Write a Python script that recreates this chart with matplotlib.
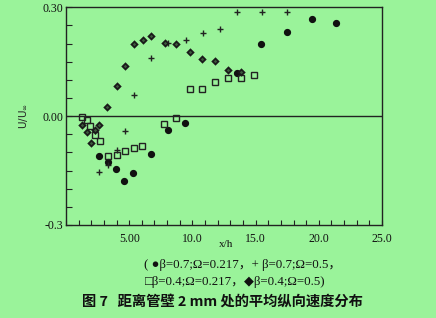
import matplotlib
matplotlib.use("Agg")
import matplotlib.pyplot as plt
from matplotlib.ticker import MultipleLocator, FixedLocator, FixedFormatter

# beta=0.7, Omega=0.217 (filled circles)
c_x = [2.61, 3.29, 3.96, 4.61, 5.33, 6.70, 8.04, 9.41, 13.5, 15.43, 17.46, 19.48, 21.36]
c_y = [-0.110, -0.127, -0.145, -0.178, -0.158, -0.105, -0.037, -0.019, 0.119, 0.198, 0.231, 0.267, 0.256]
# beta=0.7, Omega=0.5 (plus)
p_x = [2.3, 2.64, 3.29, 4.01, 4.64, 5.35, 6.75, 8.10, 9.47, 10.87, 12.18, 13.5, 15.48, 17.46]
p_y = [-0.040, -0.155, -0.134, -0.093, -0.040, 0.057, 0.159, 0.203, 0.209, 0.229, 0.240, 0.286, 0.286, 0.286]
# beta=0.4, Omega=0.217 (open squares)
s_x = [1.29, 1.63, 1.92, 2.27, 2.66, 3.29, 4.01, 4.67, 5.38, 6.04, 7.75, 8.73,
       9.81, 10.79, 11.81, 12.82, 13.82, 14.87]
s_y = [-0.002, -0.011, -0.028, -0.051, -0.069, -0.110, -0.106, -0.095, -0.089, -0.083, -0.022, -0.006,
       0.075, 0.075, 0.094, 0.105, 0.104, 0.114]
# beta=0.4, Omega=0.5 (diamonds)
d_x = [1.27, 1.64, 1.95, 2.27, 2.64, 3.27, 4.01, 4.67, 5.41, 6.09, 6.75, 7.81, 8.73,
       9.81, 10.79, 11.79, 12.82, 13.84]
d_y = [-0.025, -0.044, -0.074, -0.037, -0.024, 0.024, 0.082, 0.137, 0.199, 0.209, 0.220, 0.202, 0.198,
       0.177, 0.158, 0.151, 0.128, 0.123]

x_ticks = [5, 10, 15, 20, 25]
x_labels = ["5.00", "10.0", "15.0", "20.0", "25.0"]
y_ticks = [-0.3, 0.0, 0.3]
y_labels = ["-0.3", "0.00", "0.30"]

bg = "#9AF39A"
fig = plt.figure(figsize=(4.36, 3.18), dpi=100, facecolor=bg)
ax = fig.add_axes([0.1514, 0.2925, 0.7248, 0.6845], facecolor=bg)

ax.set_xlim(0, 25)
ax.set_ylim(-0.3, 0.3)
ax.axhline(0, color="#222222", lw=1.0, zorder=1)

ax.plot(c_x, c_y, "o", ms=4.2, color="#111111", mec="#111111", zorder=3)
ax.plot(p_x, p_y, "+", ms=4.5, mew=1.0, color="#222222", zorder=3)
ax.plot(s_x, s_y, "s", ms=4.3, mfc="none", mec="#222222", mew=1.0, zorder=3)
ax.plot(d_x, d_y, "D", ms=3.0, mfc="#3d5a3d", mec="#1a1a1a", mew=1.3, zorder=3)

serif = ["Liberation Serif", "DejaVu Serif"]
ax.xaxis.set_major_locator(FixedLocator(x_ticks))
ax.xaxis.set_major_formatter(FixedFormatter(x_labels))
ax.xaxis.set_minor_locator(MultipleLocator(1))
ax.yaxis.set_major_locator(FixedLocator(y_ticks))
ax.yaxis.set_major_formatter(FixedFormatter(y_labels))
ax.yaxis.set_minor_locator(MultipleLocator(0.05))
ax.tick_params(axis="both", which="both", direction="in", color="#222222")
ax.tick_params(axis="x", which="both", length=3.5, width=0.8, pad=6)
ax.tick_params(axis="y", which="both", length=4, width=0.8, pad=2)
for lab in ax.get_xticklabels() + ax.get_yticklabels():
    lab.set_family(serif)
    lab.set_fontsize(8.5)
    lab.set_color("#111111")
for sp in ax.spines.values():
    sp.set_color("#222222")
    sp.set_linewidth(1.0)

ax.set_ylabel(r"U/U$_{\infty}$", family=["DejaVu Sans"], fontsize=7.5, labelpad=9, color="#222222")

fig.text(0.518, 0.232, "x/h", family=serif, fontsize=8, ha="center", va="center", color="#111111")
fam = ["Liberation Serif", "DejaVu Sans", "Noto Sans CJK SC"]
fig.text(0.557, 0.168, "( \u25cf\u03b2=0.7;\u03a9=0.217\uff0c+ \u03b2=0.7;\u03a9=0.5\uff0c",
         family=fam, fontsize=9.3, ha="center", va="center", color="#111111")
fig.text(0.54, 0.112, "\u25a1\u03b2=0.4;\u03a9=0.217\uff0c\u25c6\u03b2=0.4;\u03a9=0.5)",
         family=fam, fontsize=9.3, ha="center", va="center", color="#111111")
fig.text(0.51, 0.053, "图 7   距离管壁 2 mm 处的平均纵向速度分布",
         family=["Noto Sans CJK SC", "DejaVu Sans"], fontsize=10.3, weight="bold",
         ha="center", va="center", color="#111111")

fig.savefig("out.png", dpi=100, facecolor=bg)
